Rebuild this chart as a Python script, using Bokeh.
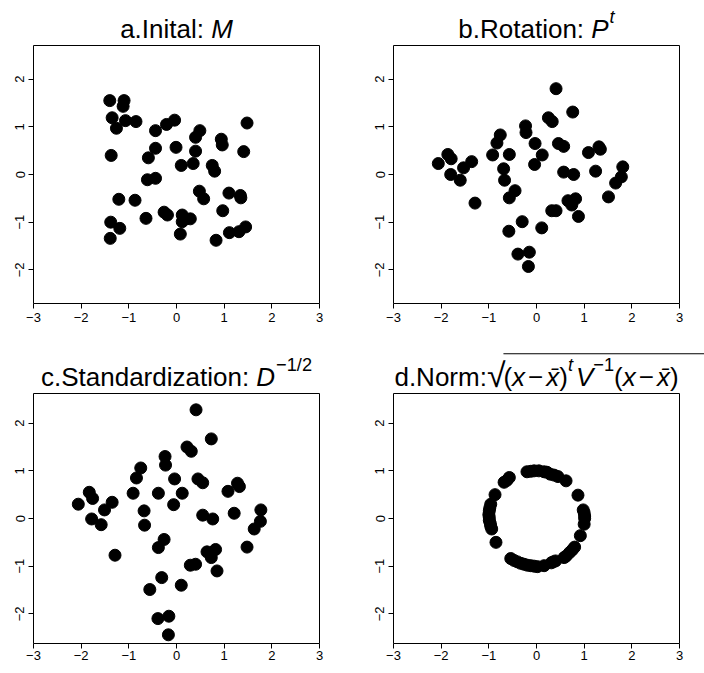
from bokeh.plotting import figure
from bokeh.models import Range1d, FixedTicker
from bokeh.layouts import column, row
from bokeh.core.properties import value
from bokeh.embed import file_html
from bokeh.resources import INLINE

# ---- data ----
xa = [-1.40, -1.10, -1.12, -1.35, -1.26, -1.07, -0.85, -1.37, -0.44, -0.21, -0.04, -0.44, -0.59,
      -0.01, 0.10, 0.40, 0.49, 0.40, 0.35, 0.94, 0.96, 0.75, 0.80, 1.48, 1.41, -0.61, -0.44, -1.21,
      -0.87, -0.64, -0.26, -0.19, 0.12, 0.12, 0.29, 0.08, 0.48, 0.57, 0.97, 1.10, 1.34, 1.35, 0.83,
      1.11, 1.31, 1.45, -1.38, -1.19, -1.39]
ya = [1.55, 1.55, 1.43, 1.19, 0.97, 1.13, 1.11, 0.40, 0.92, 1.05, 1.14, 0.55, 0.35,
      0.57, 0.19, 0.78, 0.92, 0.49, 0.23, 0.74, 0.62, 0.19, 0.07, 1.08, 0.48, -0.11, -0.08, -0.52,
      -0.54, -0.92, -0.79, -0.85, -0.85, -0.99, -0.93, -1.25, -0.35, -0.51, -0.76, -0.39, -0.44, -0.49, -1.38,
      -1.22, -1.20, -1.10, -1.00, -1.13, -1.34]

xb = [-2.06, -1.86, -1.79, -1.80, -1.60, -1.53, -1.36, -1.29, -0.92, -0.83, -0.76, -0.69, -0.67,
      -0.58, -0.57, -0.57, -0.45, -0.30, -0.39, -0.15, -0.17, -0.23, -0.22, -0.03, -0.04, 0.12, 0.11,
      0.25, 0.33, 0.41, 0.32, 0.41, 0.46, 0.57, 0.57, 0.76, 0.78, 0.66, 0.74, 0.82, 0.88, 1.09, 1.31,
      1.34, 1.24, 1.51, 1.66, 1.78, 1.81]
yb = [0.23, 0.42, 0.33, 0.00, -0.12, 0.14, 0.27, -0.60, 0.41, 0.66, 0.83, 0.12, -0.12,
      -1.19, 0.42, -0.49, -0.34, -0.99, -1.67, -1.63, -1.93, 1.02, 0.88, 0.65, 0.21, 0.41, -1.12,
      1.19, 1.11, 1.80, -0.76, -0.76, 0.65, 0.59, 0.05, 1.31, 0.00, -0.55, -0.64, -0.51, -0.88, 0.46, 0.58,
      0.53, 0.07, -0.47, -0.18, -0.05, 0.16]

xc = [-2.06, -1.83, -1.76, -1.78, -1.58, -1.51, -1.35, -1.29, -0.91, -0.84, -0.75, -0.68, -0.67,
      -0.56, -0.38, -0.38, -0.26, -0.31, -0.39, -0.16, -0.17, -0.24, -0.23, -0.04, -0.06, 0.12, 0.10,
      0.22, 0.31, 0.41, 0.29, 0.40, 0.45, 0.55, 0.55, 0.73, 0.76, 0.64, 0.73, 0.82, 0.85, 1.08, 1.28,
      1.32, 1.21, 1.48, 1.63, 1.76, 1.77]
yc = [0.30, 0.55, 0.42, -0.01, -0.13, 0.18, 0.34, -0.77, 0.53, 0.85, 1.06, 0.16, -0.14,
      -1.49, 0.53, -0.61, -0.44, -1.24, -2.10, -2.05, -2.44, 1.30, 1.12, 0.83, 0.29, 0.53, -1.40,
      1.50, 1.41, 2.28, -0.98, -0.96, 0.83, 0.75, 0.07, 1.67, -0.01, -0.70, -0.82, -0.65, -1.10, 0.57, 0.74,
      0.67, 0.11, -0.60, -0.22, -0.06, 0.18]

xd = [-0.20, -0.12, -0.05, 0.05, 0.16, 0.22, 0.29, 0.37, 0.45, 0.62,
      -0.57, -0.62, -0.68, -0.87,
      -0.96, -0.98, -0.99, -1.00, -0.99, -0.99, -0.97, -0.96, -0.94, -0.85,
      0.87, 0.98, 1.00, 1.01, 1.01, 1.00, 0.92, 0.80, 0.75, 0.69, 0.62, 0.58,
      -0.54, -0.47, -0.40, -0.33, -0.26, -0.19, -0.12, -0.05, 0.02, 0.16, 0.31, 0.35, 0.40]
yd = [0.98, 0.99, 1.00, 1.00, 0.98, 0.97, 0.93, 0.91, 0.88, 0.79,
      0.86, 0.80, 0.76, 0.50,
      0.30, 0.22, 0.16, 0.08, 0.02, -0.04, -0.10, -0.16, -0.22, -0.50,
      0.49, 0.18, 0.12, 0.05, 0.00, -0.12, -0.36, -0.60, -0.66, -0.72, -0.79, -0.82,
      -0.84, -0.88, -0.91, -0.94, -0.96, -0.98, -0.99, -1.00, -1.01, -0.99, -0.93, -0.91, -0.89]

x_ticks = [-3, -2, -1, 0, 1, 2, 3]
y_ticks = [-2, -1, 0, 1, 2]
x_tick_labels = ["\u22123", "\u22122", "\u22121", "0", "1", "2", "3"]
y_tick_labels = ["\u22122", "\u22121", "0", "1", "2"]

# titles: (text, style, size factor, raise in px, extra gap after in px)
title_a = [("a.Inital: ", "normal", 1.0, 0, 0), ("M", "italic", 1.0, 0, 0)]
title_b = [("b.Rotation: ", "normal", 1.0, 0, 0), ("P", "italic", 1.0, 0, 1),
           ("t", "italic", 0.7, 12, 0)]
title_c = [("c.Standardization: ", "normal", 1.0, 0, 0), ("D", "italic", 1.0, 0, 1),
           ("\u22121/2", "normal", 0.7, 12, 0)]
title_d = [("d.Norm:", "normal", 1.0, 0, 0), ("\u221a", "normal", 1.3, 2, -2),
           ("(", "normal", 1.0, 0, 0), ("x", "italic", 1.0, 0, 3), ("\u2212", "normal", 1.0, 0, 3),
           ("x\u0304", "italic", 1.0, 0, 0), (")", "normal", 1.0, 0, 0), ("t", "italic", 0.7, 12, 3),
           ("V", "italic", 1.0, 0, 0), ("\u22121", "normal", 0.7, 12, 0),
           ("(", "normal", 1.0, 0, 0), ("x", "italic", 1.0, 0, 3), ("\u2212", "normal", 1.0, 0, 3),
           ("x\u0304", "italic", 1.0, 0, 0), (")", "normal", 1.0, 0, 0)]

FONT = "Liberation Sans"
TS = 26
FW = 286
LEFT = 33
CX = LEFT + FW / 2
SHIFT = 9  # observed downward offset of alphabetic-baseline text glyphs

ADV = {'a': 556, 'b': 556, 'c': 500, 'd': 556, 'e': 556, 'i': 222, 'l': 222, 'm': 833, 'n': 556,
       'o': 556, 'r': 333, 's': 500, 't': 278, 'z': 500, 'x': 500, 'I': 278, 'M': 833, 'N': 722,
       'P': 667, 'R': 722, 'S': 667, 'D': 722, 'V': 667, '.': 278, ':': 278, ' ': 278, '(': 333,
       ')': 333, '\u2212': 584, '1': 556, '2': 556, '/': 278, '\u221a': 549, '\u0304': 0}


def twidth(s, size):
    return sum(ADV.get(ch, 556) for ch in s) * size / 1000.0


def strip(width, height, pieces, base, radical=None):
    s = figure(frame_width=width, frame_height=height, x_range=Range1d(0, width),
               y_range=Range1d(0, height), output_backend="svg", toolbar_location=None,
               min_border=0, min_border_left=0, min_border_right=0, min_border_top=0,
               min_border_bottom=0, x_axis_location=None, y_axis_location=None,
               frame_align=False)
    s.title.visible = False
    s.outline_line_color = None
    s.grid.visible = False
    s.background_fill_color = "white"
    s.border_fill_color = "white"
    total = sum(twidth(t, TS * f) + g for t, _, f, _, g in pieces)
    x = CX - total / 2
    ox = None
    for i, (t, style, f, rz, g) in enumerate(pieces):
        size = TS * f
        s.text(x=[x], y=[base + SHIFT + rz], text=[t], text_font=value(FONT),
               text_font_size=value(f"{size:.1f}px"), text_font_style=value(style),
               text_color="black", text_align=value("left"), text_baseline=value("alphabetic"))
        if radical is not None and i == radical:
            ox = x + twidth(t, size) - 2
            oy = base + rz + 0.88 * size
        x += twidth(t, size) + g
    if ox is not None:
        s.segment(x0=[ox], y0=[oy], x1=[width], y1=[oy], line_color="black", line_width=1.2)
    return s


def make(xs, ys, fh, right, bottom, standoff):
    yl = 3.0 * fh / FW
    p = figure(frame_width=FW, frame_height=fh, x_range=Range1d(-3, 3), y_range=Range1d(-yl, yl),
               output_backend="svg", toolbar_location=None, min_border_left=LEFT,
               min_border_right=right, min_border_top=1, min_border_bottom=bottom)
    p.title.visible = False
    p.grid.visible = False
    p.outline_line_color = "black"
    p.outline_line_width = 1
    p.outline_line_alpha = 1
    p.background_fill_color = "white"
    p.border_fill_color = "white"
    p.xaxis.ticker = FixedTicker(ticks=x_ticks)
    p.yaxis.ticker = FixedTicker(ticks=y_ticks)
    p.xaxis.major_label_overrides = {k: v for k, v in zip(x_ticks, x_tick_labels)}
    p.yaxis.major_label_overrides = {k: v for k, v in zip(y_ticks, y_tick_labels)}
    for ax in (p.xaxis, p.yaxis):
        ax.axis_line_color = None
        ax.major_tick_line_color = "black"
        ax.major_tick_out = 5
        ax.major_tick_in = 0
        ax.minor_tick_line_color = None
        ax.major_label_text_font = FONT
        ax.major_label_text_font_size = "13px"
        ax.major_label_text_color = "black"
    p.xaxis.major_label_standoff = standoff
    p.yaxis.major_label_standoff = 4
    p.yaxis.major_label_orientation = "vertical"
    p.scatter(xs, ys, size=12, color="black")
    return p


W1, W2 = 360, 344
R1, R2 = W1 - LEFT - FW, W2 - LEFT - FW

s1 = strip(W1, 44, title_a, 7)
s2 = strip(W2, 44, title_b, 7)
p1 = make(xa, ya, 258, R1, 48, 4)
p2 = make(xb, yb, 258, R2, 48, 4)

s3 = strip(W1, 41, title_c, 7)
s4 = strip(W2, 41, title_d, 7, radical=1)
p3 = make(xc, yc, 250, R1, 30, 2)
p4 = make(xd, yd, 250, R2, 30, 2)

layout = column(row(column(s1, p1), column(s2, p2)), row(column(s3, p3), column(s4, p4)))
open("out.html", "w").write(file_html(layout, INLINE))
